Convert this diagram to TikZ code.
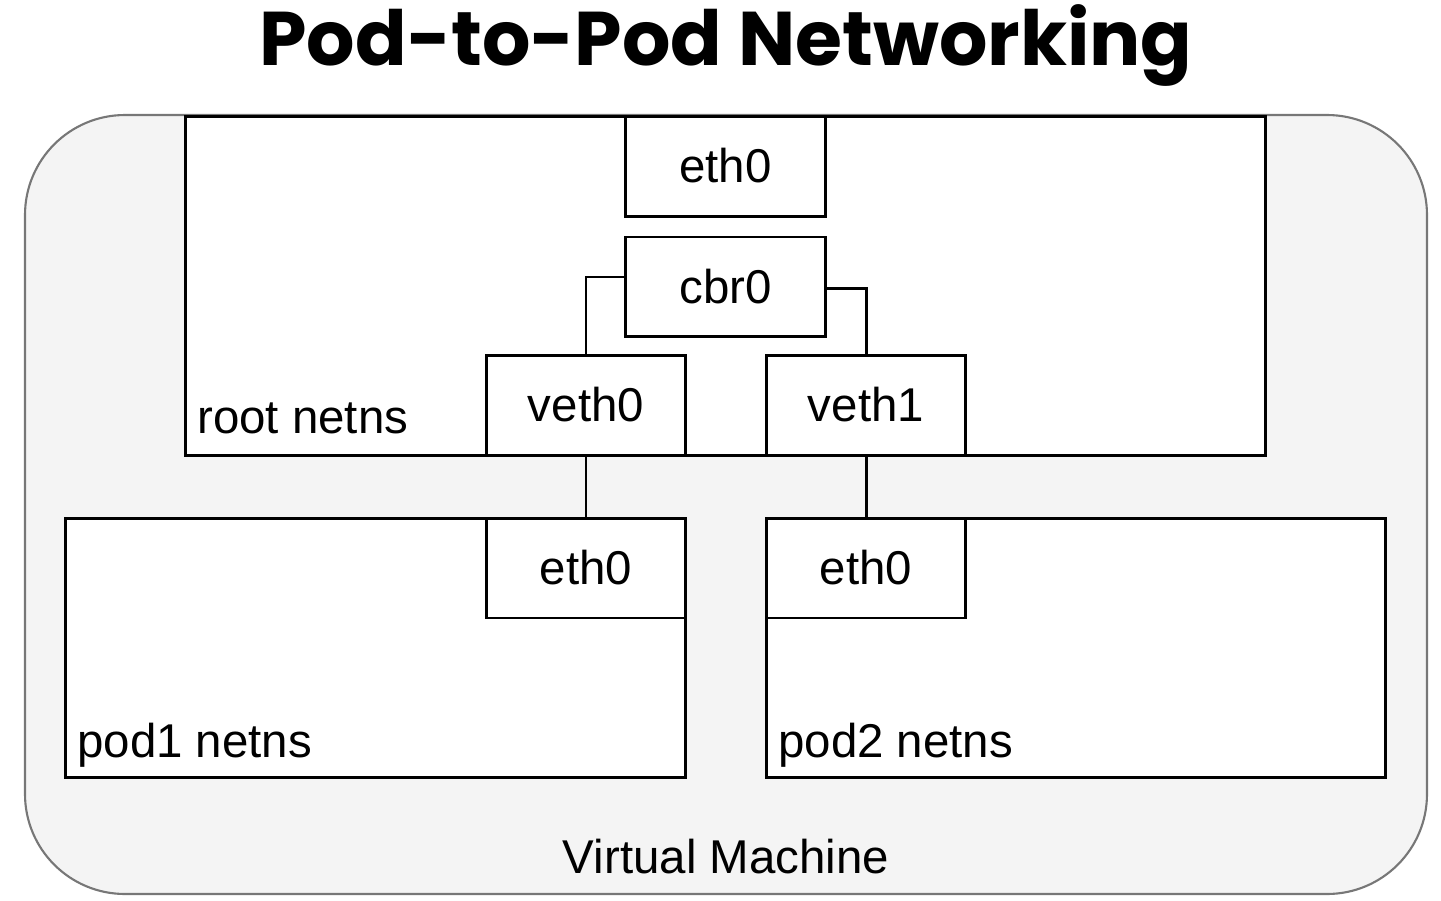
\documentclass[tikz,border=0pt]{standalone}
\usepackage{fontspec}
\setmainfont{Liberation Sans}
\newfontfamily\titlefont{Poppins}
\usepackage{xcolor}
\usepackage{tikz}
\usetikzlibrary{positioning}

\definecolor{vmgray}{HTML}{F4F4F4}
\definecolor{vmline}{HTML}{777777}

\begin{document}
\begin{tikzpicture}[
    x=0.02cm, y=-0.02cm,
    every node/.style={font=\fontsize{27pt}{30pt}\selectfont, inner sep=0pt},
    vm/.style={draw=vmline, line width=1.2pt, fill=vmgray, rounded corners=2cm},
    netns/.style={draw, line width=1.7pt, fill=white, rectangle},
    port/.style={draw, line width=1.7pt, fill=white, rectangle,
                 minimum width=4cm, minimum height=2cm, align=center},
    link/.style={line width=1.7pt},
    label/.style={anchor=base west}
]
\useasboundingbox (0,0) rectangle (1441,900);

\node[anchor=base, font=\fontsize{43.3pt}{50pt}\selectfont\titlefont\bfseries]
  (title) at (726,65) {Pod-to-Pod Networking};

% virtual machine
\draw[vm] (25,115) rectangle (1427,894);
\node[anchor=base] (vmlabel) at (726,873) {Virtual Machine};

% namespaces
\node[netns, minimum width=21.62cm, minimum height=6.8cm] (root) at (725.5,286) {};
\node[netns, minimum width=12.42cm, minimum height=5.2cm] (pod1) at (375.5,648) {};
\node[netns, minimum width=12.4cm, minimum height=5.2cm] (pod2) at (1076,648) {};

\node[label] (rootlabel) at (197,433) {root netns};
\node[label] (pod1label) at (77,757) {pod1 netns};
\node[label] (pod2label) at (778,757) {pod2 netns};

% interfaces
\node[port, anchor=north] (eth0) at (root.north) {eth0};
\node[port, below=0.36cm of eth0] (cbr0) {cbr0};
\node[port] (veth0) at (586,405) {veth0};
\node[port] (veth1) at (866,405) {veth1};
\node[port] (podeth1) at (586,568) {eth0};
\node[port] (podeth2) at (866,568) {eth0};

\draw[link] ([yshift=0.2cm]cbr0.west) -| (veth0.north);
\draw[link] ([yshift=-0.04cm]cbr0.east) -| (veth1.north);
\draw[link] (veth0.south) -- (podeth1.north);
\draw[link] (veth1.south) -- (podeth2.north);
\end{tikzpicture}
\end{document}
